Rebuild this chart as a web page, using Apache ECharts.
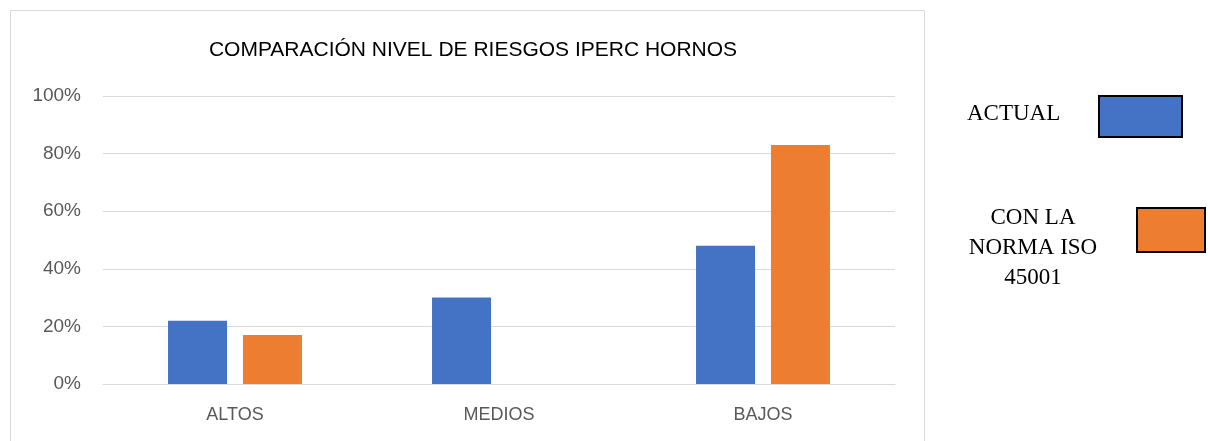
<!DOCTYPE html>
<html>
<head>
<meta charset="utf-8">
<script src="https://cdn.jsdelivr.net/npm/echarts@6/dist/echarts.min.js"></script>
<style>
  html, body { margin: 0; padding: 0; background: #ffffff; }
  #chart { width: 1208px; height: 441px; }
</style>
</head>
<body>
<div id="chart"></div>
<script>
// Risk levels from the IPERC matrix for the furnaces
const categories = ['ALTOS', 'MEDIOS', 'BAJOS'];
const actualValues = [22, 30, 48];
const isoValues = [17, 0, 83];
const seriesNames = ['ACTUAL', 'CON LA\nNORMA ISO\n45001'];
const titleText = 'COMPARACIÓN NIVEL DE RIESGOS IPERC HORNOS';

const BLUE = '#4472c4';
const ORANGE = '#ed7d31';

const chart = echarts.init(document.getElementById('chart'), null, { renderer: 'canvas' });

chart.setOption({
  animation: false,
  backgroundColor: '#ffffff',
  title: {
    text: titleText,
    left: 468,
    top: 35,
    textAlign: 'center',
    textStyle: {
      fontFamily: 'Liberation Sans, sans-serif',
      fontSize: 21,
      fontWeight: 'normal',
      color: '#000000'
    }
  },
  grid: {
    left: 103,
    right: 313,
    top: 96,
    bottom: 57,
    containLabel: false
  },
  xAxis: {
    type: 'category',
    data: categories,
    axisLine: { show: true, lineStyle: { color: '#d9d9d9', width: 1 } },
    axisTick: { show: false },
    axisLabel: {
      color: '#595959',
      fontFamily: 'Liberation Sans, sans-serif',
      fontSize: 18,
      margin: 22
    }
  },
  yAxis: {
    type: 'value',
    min: 0,
    max: 100,
    interval: 20,
    axisLine: { show: false },
    axisTick: { show: false },
    splitLine: { lineStyle: { color: '#d9d9d9', width: 1 } },
    axisLabel: {
      formatter: '{value}%',
      color: '#595959',
      fontFamily: 'Liberation Sans, sans-serif',
      fontSize: 19,
      margin: 22
    }
  },
  series: [
    {
      name: seriesNames[0],
      type: 'bar',
      data: actualValues,
      barWidth: 59,
      barGap: '27%',
      itemStyle: { color: BLUE }
    },
    {
      name: seriesNames[1],
      type: 'bar',
      data: isoValues,
      barWidth: 59,
      barGap: '27%',
      itemStyle: { color: ORANGE }
    }
  ],
  graphic: [
    // outer chart frame
    {
      type: 'rect',
      shape: { x: 10.5, y: 10.5, width: 914, height: 440 },
      style: { fill: 'none', stroke: '#d9d9d9', lineWidth: 1 },
      silent: true
    },
    // legend entries
    {
      type: 'text',
      x: 967,
      y: 114,
      style: {
        text: seriesNames[0],
        font: '23px "Liberation Serif", serif',
        fill: '#000000',
        verticalAlign: 'middle'
      }
    },
    {
      type: 'rect',
      shape: { x: 1099, y: 96, width: 83, height: 41 },
      style: { fill: BLUE, stroke: '#000000', lineWidth: 2 }
    },
    {
      type: 'text',
      x: 1033,
      y: 248,
      style: {
        text: seriesNames[1],
        font: '23px "Liberation Serif", serif',
        fill: '#000000',
        align: 'center',
        verticalAlign: 'middle',
        lineHeight: 30
      }
    },
    {
      type: 'rect',
      shape: { x: 1137, y: 208, width: 68, height: 44 },
      style: { fill: ORANGE, stroke: '#000000', lineWidth: 2 }
    }
  ]
});
</script>
</body>
</html>
